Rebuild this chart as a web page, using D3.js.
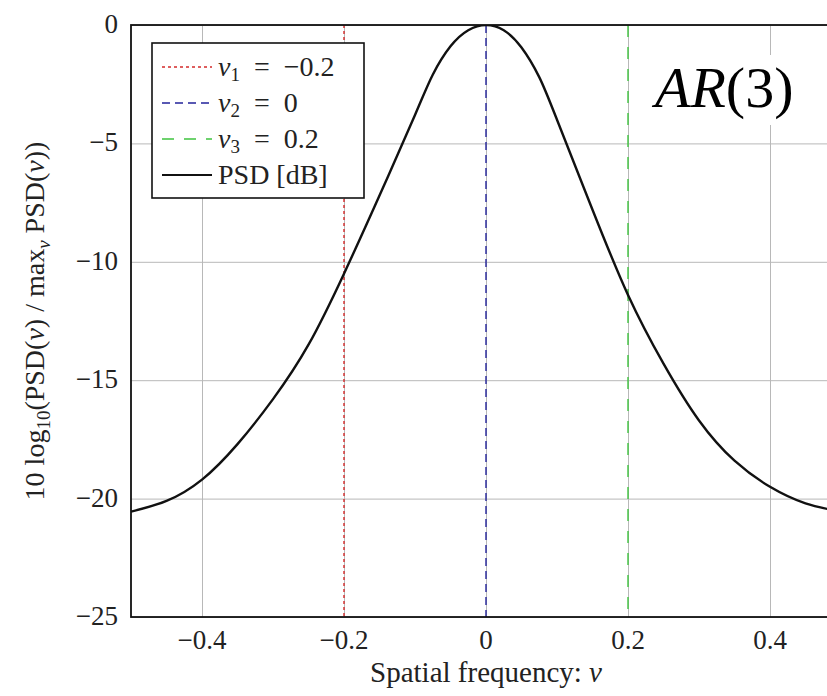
<!DOCTYPE html>
<html lang="en">
<head>
  <meta charset="UTF-8">
  <title>AR(3) PSD</title>
  <script src="https://d3js.org/d3.v7.min.js"></script>
  <style>
    body {
      margin: 0;
      background: #fff;
    }
    .grid line {
      stroke: #b8b8b8;
      stroke-width: 1;
    }
    .grid path {
      display: none;
    }
  </style>
</head>
<body>
  <svg id="chart" width="827" height="696"></svg>

  <script>
// spatial frequency samples and normalized PSD in dB
const nu = [-0.5, -0.45, -0.4, -0.35, -0.3, -0.25, -0.2, -0.15, -0.1, -0.075, -0.05, -0.025, 0,
            0.025, 0.05, 0.075, 0.1, 0.15, 0.2, 0.25, 0.3, 0.35, 0.4, 0.45, 0.5];
const psdDb = [-20.55, -20.1, -19.2, -17.7, -15.8, -13.5, -10.5, -7.2, -3.8, -2.1, -0.9, -0.22, 0,
               -0.22, -0.95, -2.2, -4.0, -7.8, -11.4, -14.3, -16.7, -18.4, -19.5, -20.2, -20.55];

// the three marked frequencies
const markNames = ["1", "2", "3"];
const markValues = [-0.2, 0, 0.2];
const markColors = ["#d42a2a", "#23239a", "#3fc43f"];
const markDash = ["3,3", "8,5", "12,10"];
const markLabels = ["−0.2", "0", "0.2"];

const xTicks = [-0.4, -0.2, 0, 0.2, 0.4];
const yTicks = [0, -5, -10, -15, -20, -25];

const serif = "'Liberation Serif', 'Times New Roman', serif";

const svg = d3.select("#chart").attr("font-family", serif);
const margin = { top: 25, left: 131 };
const plotW = 710;
const plotH = 592;

const x = d3.scaleLinear().domain([-0.5, 0.5]).range([0, plotW]);
const y = d3.scaleLinear().domain([-25, 0]).range([plotH, 0]);

const fmt = d => (d < 0 ? "−" : "") + (Math.abs(d) === 0 ? "0" : String(Math.abs(d)));

const g = svg.append("g").attr("transform", `translate(${margin.left},${margin.top})`);

g.append("clipPath").attr("id", "plotClip")
  .append("rect").attr("width", plotW).attr("height", plotH);

// grid from the axes
g.append("g")
  .attr("class", "grid")
  .attr("transform", `translate(0,${plotH})`)
  .call(d3.axisBottom(x).tickValues(xTicks).tickSize(-plotH).tickFormat(""));

g.append("g")
  .attr("class", "grid")
  .call(d3.axisLeft(y).tickValues(yTicks).tickSize(-plotW).tickFormat(""));

// tick labels
g.append("g")
  .selectAll("text")
  .data(xTicks)
  .enter().append("text")
  .attr("x", d => x(d))
  .attr("y", plotH + 32)
  .attr("text-anchor", "middle")
  .attr("font-family", serif)
  .attr("font-size", "27px")
  .attr("fill", "#222")
  .text(fmt);

g.append("g")
  .selectAll("text")
  .data(yTicks)
  .enter().append("text")
  .attr("x", -13)
  .attr("y", d => y(d) + 8)
  .attr("text-anchor", "end")
  .attr("font-family", serif)
  .attr("font-size", "27px")
  .attr("fill", "#222")
  .text(fmt);

// vertical marker lines
g.append("g")
  .selectAll("line")
  .data(markValues)
  .enter().append("line")
  .attr("x1", d => x(d))
  .attr("x2", d => x(d))
  .attr("y1", 0)
  .attr("y2", plotH)
  .attr("stroke", (d, i) => markColors[i])
  .attr("stroke-width", 1.4)
  .attr("stroke-dasharray", (d, i) => markDash[i]);

// PSD curve
const line = d3.line()
  .x((d, i) => x(nu[i]))
  .y(d => y(d))
  .curve(d3.curveNatural);

g.append("path")
  .datum(psdDb)
  .attr("clip-path", "url(#plotClip)")
  .attr("d", line)
  .attr("fill", "none")
  .attr("stroke", "#111")
  .attr("stroke-width", 2.4);

// axis box
g.append("rect")
  .attr("width", plotW)
  .attr("height", plotH)
  .attr("fill", "none")
  .attr("stroke", "#111")
  .attr("stroke-width", 1.8);

// legend
const legend = g.append("g").attr("transform", "translate(21,18)");
legend.append("rect")
  .attr("width", 212)
  .attr("height", 155)
  .attr("fill", "#fff")
  .attr("stroke", "#111")
  .attr("stroke-width", 1.6);

const rowY = i => 24 + i * 36;

markValues.forEach((v, i) => {
  legend.append("line")
    .attr("x1", 10).attr("x2", 60)
    .attr("y1", rowY(i)).attr("y2", rowY(i))
    .attr("stroke", markColors[i])
    .attr("stroke-width", 1.6)
    .attr("stroke-dasharray", markDash[i]);
  const t = legend.append("text")
    .attr("x", 66)
    .attr("y", rowY(i) + 9)
    .attr("font-family", serif)
    .attr("font-size", "28px")
    .attr("fill", "#222");
  t.append("tspan").attr("font-style", "italic").text("ν");
  t.append("tspan").attr("font-size", "19px").attr("dy", 5).text(markNames[i]);
  t.append("tspan").attr("dy", -5).text("\u2002=\u2002" + markLabels[i]);
});

legend.append("line")
  .attr("x1", 10).attr("x2", 60)
  .attr("y1", rowY(3)).attr("y2", rowY(3))
  .attr("stroke", "#111")
  .attr("stroke-width", 2);
legend.append("text")
  .attr("x", 66)
  .attr("y", rowY(3) + 9)
  .attr("font-family", serif)
  .attr("font-size", "28px")
  .attr("fill", "#222")
  .text("PSD [dB]");

// AR(3) annotation
const ann = svg.append("g");
ann.append("rect")
  .attr("x", 648).attr("y", 55)
  .attr("width", 156).attr("height", 70)
  .attr("fill", "#fff");
const annText = ann.append("text")
  .attr("x", 655)
  .attr("y", 107)
  .attr("font-family", serif)
  .attr("font-size", "58px")
  .attr("fill", "#000");
annText.append("tspan").attr("font-style", "italic").text("AR");
annText.append("tspan").text("(3)");

// axis titles
svg.append("text")
  .attr("x", margin.left + x(0))
  .attr("y", 682)
  .attr("text-anchor", "middle")
  .attr("font-family", serif)
  .attr("font-size", "29px")
  .attr("fill", "#222")
  .call(t => {
    t.append("tspan").text("Spatial frequency: ");
    t.append("tspan").attr("font-style", "italic").text("ν");
  });

const yl = svg.append("text")
  .attr("transform", `translate(44,${margin.top + plotH / 2}) rotate(-90)`)
  .attr("text-anchor", "middle")
  .attr("font-family", serif)
  .attr("font-size", "28px")
  .attr("fill", "#222");
yl.append("tspan").text("10 log");
yl.append("tspan").attr("font-size", "19px").attr("dy", 6).text("10");
yl.append("tspan").attr("dy", -6).text("(PSD(");
yl.append("tspan").attr("font-style", "italic").text("ν");
yl.append("tspan").text(") / max");
yl.append("tspan").attr("font-size", "19px").attr("font-style", "italic").attr("dy", 6).text("ν");
yl.append("tspan").attr("dy", -6).text(" PSD(");
yl.append("tspan").attr("font-style", "italic").text("ν");
yl.append("tspan").text("))");
  </script>
</body>
</html>
